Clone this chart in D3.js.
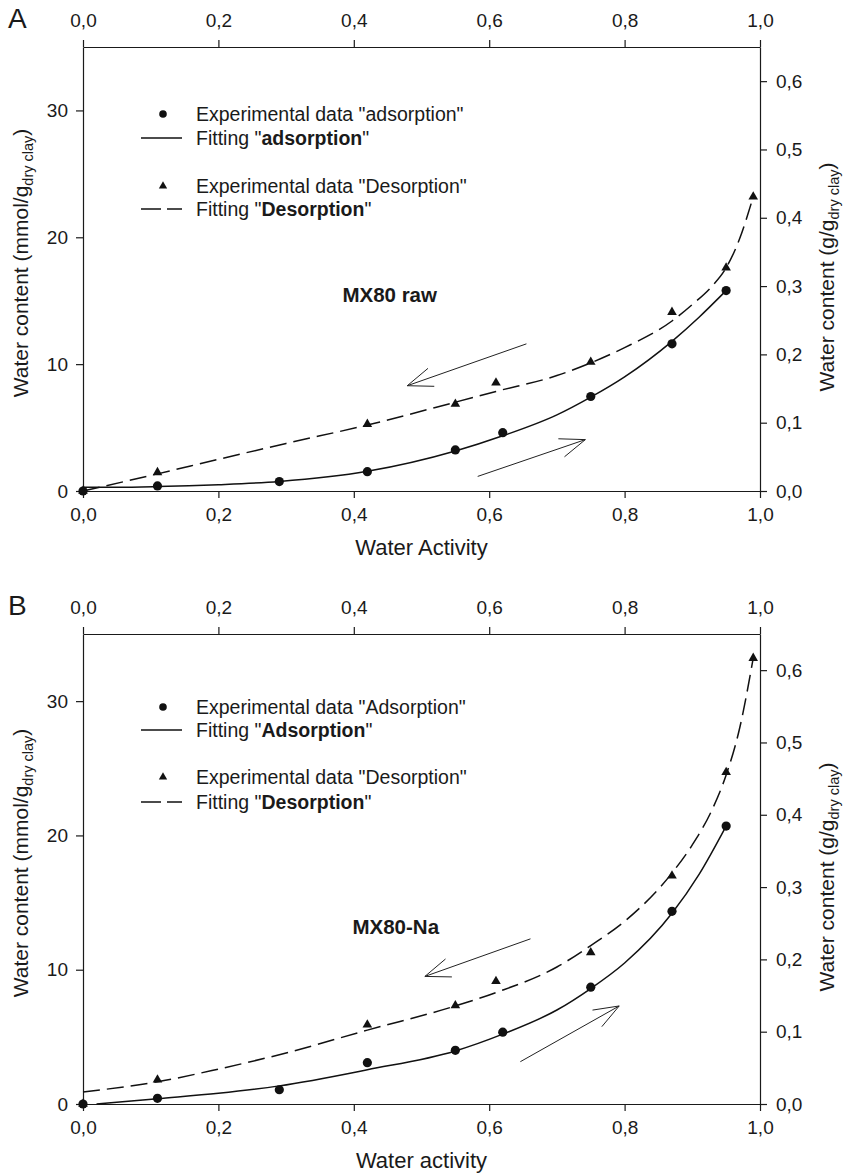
<!DOCTYPE html>
<html>
<head>
<meta charset="utf-8">
<script src="https://cdn.jsdelivr.net/npm/d3@7"></script>
<style>
body { margin: 0; background: #fff; }
text { font-family: "Liberation Sans", Arial, sans-serif; fill: #1a1a1a; }
</style>
</head>
<body>
<div id="chart"></div>
<script>
// ---- data (water content in mmol/g dry clay) ----
var awAds = [0, 0.11, 0.29, 0.42, 0.55, 0.62, 0.75, 0.87, 0.95];
var awDes = [0, 0.11, 0.42, 0.55, 0.61, 0.75, 0.87, 0.95, 0.99];

// panel A : MX80 raw
var rawAds = [0, 0.4, 0.74, 1.52, 3.24, 4.6, 7.45, 11.6, 15.8];
var rawDes = [0, 1.47, 5.27, 6.86, 8.53, 10.17, 14.1, 17.6, 23.2];
var rawFitAwAds = [0, 0.05, 0.11, 0.2, 0.29, 0.42, 0.55, 0.62, 0.7, 0.75, 0.8, 0.87, 0.91, 0.95];
var rawFitAds = [0.3, 0.3, 0.35, 0.5, 0.75, 1.55, 3.15, 4.35, 6.0, 7.4, 9.0, 11.8, 13.7, 15.8];
var rawFitAwDes = [0, 0.11, 0.2, 0.3, 0.42, 0.55, 0.61, 0.7, 0.75, 0.8, 0.87, 0.9, 0.93, 0.95, 0.97, 0.99];
var rawFitDes = [0, 1.35, 2.5, 3.75, 5.2, 7.0, 7.85, 9.1, 10.1, 11.3, 13.4, 14.7, 16.2, 17.6, 19.9, 23.2];

// panel B : MX80-Na
var naAds = [0, 0.42, 1.06, 3.08, 4.0, 5.35, 8.7, 14.35, 20.7];
var naDes = [0, 1.8, 5.9, 7.34, 9.14, 11.28, 17.0, 24.7, 33.2];
var naFitAwAds = [0.02, 0.11, 0.2, 0.29, 0.42, 0.55, 0.62, 0.7, 0.75, 0.8, 0.87, 0.91, 0.95];
var naFitAds = [0, 0.4, 0.8, 1.35, 2.55, 3.95, 5.2, 7.0, 8.6, 10.5, 14.2, 17.1, 20.7];
var naFitAwDes = [0, 0.11, 0.2, 0.3, 0.42, 0.55, 0.61, 0.7, 0.75, 0.8, 0.87, 0.9, 0.93, 0.95, 0.97, 0.99];
var naFitDes = [0.9, 1.65, 2.6, 3.8, 5.5, 7.3, 8.3, 10.2, 11.8, 13.6, 17.2, 19.3, 22.0, 24.5, 28.0, 33.2];

// arrows [aw tail, wc tail, aw head, wc head]
var rawArrows = [[0.655, 11.6, 0.479, 8.3], [0.583, 1.15, 0.742, 4.05]];
var naArrows = [[0.661, 12.3, 0.505, 9.5], [0.646, 3.15, 0.792, 7.3]];

// ticks
var awTicks = [0, 0.2, 0.4, 0.6, 0.8, 1.0];
var mmolTicks = [0, 10, 20, 30];
var gTicks = [0, 0.1, 0.2, 0.3, 0.4, 0.5, 0.6];

var legendA = ['Experimental data "adsorption"', 'adsorption', 'Experimental data "Desorption"', 'Desorption'];
var legendB = ['Experimental data "Adsorption"', 'Adsorption', 'Experimental data "Desorption"', 'Desorption'];

var svg = d3.select('#chart').append('svg')
  .attr('width', 843)
  .attr('height', 1175);

var fmt = function(d) { return d3.format('.1f')(d).replace('.', ','); };
var left = 83, right = 760;

function styleAxis(sel) {
  sel.attr('font-size', 19)
    .attr('font-family', '"Liberation Sans", Arial, sans-serif')
    .attr('color', '#1a1a1a');
  sel.selectAll('path, line').attr('stroke-width', 1.2);
}

function drawPanel(p) {
  var x = d3.scaleLinear().domain([0, 1]).range([left, right]);
  var y = d3.scaleLinear().domain([0, 35]).range([p.bottom, p.top]);
  var y2 = d3.scaleLinear().domain([0, 0.65]).range([p.bottom, p.top]);
  var g = svg.append('g');

  // axes (box of 4)
  g.append('g').attr('transform', 'translate(0,' + p.bottom + ')')
    .call(d3.axisBottom(x).tickValues(awTicks).tickFormat(fmt).tickSize(7).tickSizeOuter(0).tickPadding(10))
    .call(styleAxis);
  g.append('g').attr('transform', 'translate(0,' + p.top + ')')
    .call(d3.axisTop(x).tickValues(awTicks).tickFormat(fmt).tickSize(7).tickSizeOuter(0).tickPadding(13))
    .call(styleAxis);
  g.append('g').attr('transform', 'translate(' + left + ',0)')
    .call(d3.axisLeft(y).tickValues(mmolTicks).tickSize(7).tickSizeOuter(0).tickPadding(8))
    .call(styleAxis);
  g.append('g').attr('transform', 'translate(' + right + ',0)')
    .call(d3.axisRight(y2).tickValues(gTicks).tickFormat(fmt).tickSize(7).tickSizeOuter(0).tickPadding(9))
    .call(styleAxis);

  // fitted curves
  var line = d3.line()
    .x(function(d) { return x(d[0]); })
    .y(function(d) { return y(d[1]); })
    .curve(d3.curveMonotoneX);

  g.append('path')
    .datum(d3.zip(p.fitAwAds, p.fitAds))
    .attr('d', line)
    .attr('fill', 'none').attr('stroke', '#111').attr('stroke-width', 1.5);
  g.append('path')
    .datum(d3.zip(p.fitAwDes, p.fitDes))
    .attr('d', line)
    .attr('fill', 'none').attr('stroke', '#111').attr('stroke-width', 1.5)
    .attr('stroke-dasharray', '17,7');

  // experimental points
  g.selectAll('circle.ads')
    .data(d3.zip(awAds, p.ads))
    .enter().append('circle')
    .attr('class', 'ads')
    .attr('cx', function(d) { return x(d[0]); })
    .attr('cy', function(d) { return y(d[1]); })
    .attr('r', 4.6)
    .attr('fill', '#111');
  g.selectAll('path.des')
    .data(d3.zip(awDes, p.des))
    .enter().append('path')
    .attr('class', 'des')
    .attr('d', d3.symbol(d3.symbolTriangle).size(40))
    .attr('transform', function(d) { return 'translate(' + x(d[0]) + ',' + y(d[1]) + ')'; })
    .attr('fill', '#111');

  // arrows
  p.arrows.forEach(function(a) {
    var x1 = x(a[0]), y1 = y(a[1]), x2 = x(a[2]), y2p = y(a[3]);
    var ang = Math.atan2(y1 - y2p, x1 - x2);
    var len = 27, spread = 0.36;
    g.append('line')
      .attr('x1', x1).attr('y1', y1).attr('x2', x2).attr('y2', y2p)
      .attr('stroke', '#222').attr('stroke-width', 1);
    [ang - spread, ang + spread].forEach(function(b) {
      g.append('line')
        .attr('x1', x2).attr('y1', y2p)
        .attr('x2', x2 + len * Math.cos(b)).attr('y2', y2p + len * Math.sin(b))
        .attr('stroke', '#222').attr('stroke-width', 1);
    });
  });

  // sample label
  g.append('text')
    .attr('x', x(p.label[1])).attr('y', y(p.label[2]))
    .attr('text-anchor', 'middle')
    .attr('font-size', 20.5).attr('font-weight', 'bold')
    .attr('dy', '0.35em')
    .text(p.label[0]);

  // legend
  var lg = p.legendY;
  g.append('circle').attr('cx', 163).attr('cy', p.top + lg[0]).attr('r', 3.8).attr('fill', '#111');
  g.append('line').attr('x1', 141).attr('x2', 182).attr('y1', p.top + lg[1]).attr('y2', p.top + lg[1])
    .attr('stroke', '#111').attr('stroke-width', 1.3);
  g.append('path').attr('d', d3.symbol(d3.symbolTriangle).size(30))
    .attr('transform', 'translate(163,' + (p.top + lg[2]) + ')').attr('fill', '#111');
  g.append('line').attr('x1', 141).attr('x2', 182).attr('y1', p.top + lg[3]).attr('y2', p.top + lg[3])
    .attr('stroke', '#111').attr('stroke-width', 1.3).attr('stroke-dasharray', '20,6');

  var txt = function(yy) {
    return g.append('text').attr('x', 196).attr('y', p.top + yy).attr('dy', '0.35em').attr('font-size', 19.5);
  };
  txt(lg[0]).text(p.legend[0]);
  var t1 = txt(lg[1]);
  t1.append('tspan').text('Fitting "');
  t1.append('tspan').attr('font-weight', 'bold').text(p.legend[1]);
  t1.append('tspan').text('"');
  txt(lg[2]).text(p.legend[2]);
  var t3 = txt(lg[3]);
  t3.append('tspan').text('Fitting "');
  t3.append('tspan').attr('font-weight', 'bold').text(p.legend[3]);
  t3.append('tspan').text('"');

  // axis titles
  g.append('text')
    .attr('x', (left + right) / 2).attr('y', p.bottom + 64)
    .attr('text-anchor', 'middle').attr('font-size', 22)
    .text(p.xTitle);

  var mid = (p.top + p.bottom) / 2;
  var lt = g.append('text')
    .attr('transform', 'translate(28,' + (mid - 6) + ') rotate(-90)')
    .attr('text-anchor', 'middle').attr('font-size', 21);
  lt.append('tspan').text('Water content (mmol/g');
  lt.append('tspan').attr('font-size', 14.5).attr('dy', 5).text('dry clay');
  lt.append('tspan').attr('dy', -5).text(')');

  var rt = g.append('text')
    .attr('transform', 'translate(834,' + (mid + 8) + ') rotate(-90)')
    .attr('text-anchor', 'middle').attr('font-size', 21);
  rt.append('tspan').text('Water content (g/g');
  rt.append('tspan').attr('font-size', 14.5).attr('dy', 5).text('dry clay');
  rt.append('tspan').attr('dy', -5).text(')');

  // panel letter
  g.append('text').attr('x', 8).attr('y', p.top - 19)
    .attr('font-size', 28).text(p.letter);
}

drawPanel({
  letter: 'A', top: 47, bottom: 491,
  ads: rawAds, des: rawDes,
  fitAwAds: rawFitAwAds, fitAds: rawFitAds,
  fitAwDes: rawFitAwDes, fitDes: rawFitDes,
  arrows: rawArrows,
  label: ['MX80 raw', 0.453, 15.5],
  legend: legendA, legendY: [67, 91, 139, 162],
  xTitle: 'Water Activity'
});

drawPanel({
  letter: 'B', top: 634, bottom: 1104,
  ads: naAds, des: naDes,
  fitAwAds: naFitAwAds, fitAds: naFitAds,
  fitAwDes: naFitAwDes, fitDes: naFitDes,
  arrows: naArrows,
  label: ['MX80-Na', 0.462, 13.2],
  legend: legendB, legendY: [73, 96, 143, 168],
  xTitle: 'Water activity'
});
</script>
</body>
</html>
